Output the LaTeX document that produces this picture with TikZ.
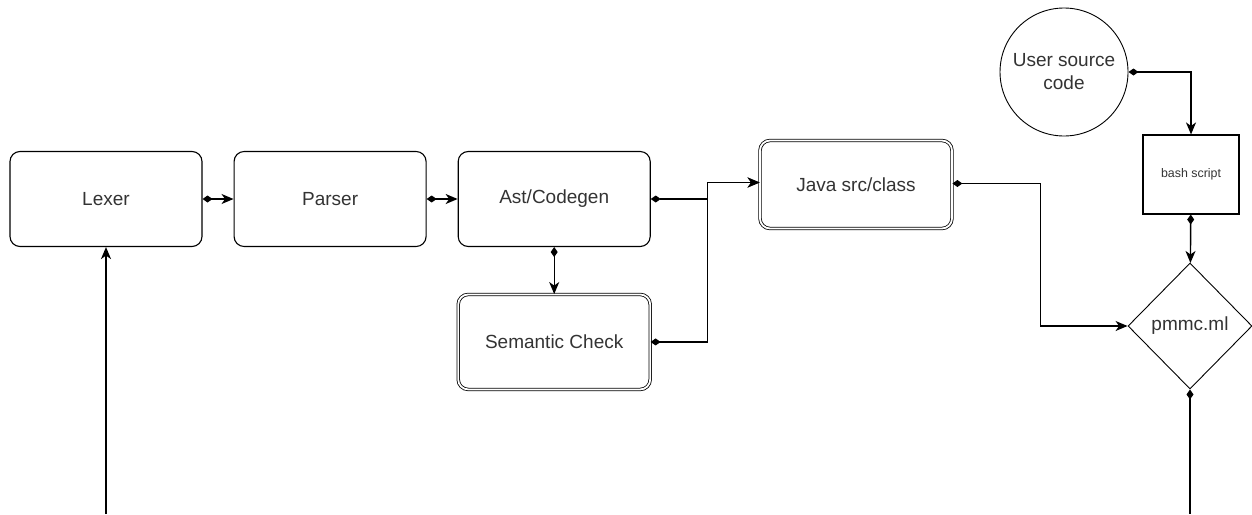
\documentclass[tikz,border=0pt]{standalone}
\usepackage{fontspec}
\setmainfont{Liberation Sans}
\usetikzlibrary{positioning,shapes.geometric,arrows.meta}

\tikzset{
  block/.style={draw, rounded corners=10pt, line width=1.1pt, minimum width=192pt,
    minimum height=95pt, text=black!80, font=\fontsize{19}{23}\selectfont},
  dblock/.style={block, double, double distance=1.8pt, line width=0.8pt},
  dot/.tip={Diamond[length=10pt,width=7pt]},
  tip/.tip={Stealth[length=12pt,width=10pt,inset=3.5pt]},
  link/.style={line width=1.4pt, dot-tip},
}

\begin{document}
\begin{tikzpicture}[x=1pt,y=-1pt]
  \useasboundingbox (0,0) rectangle (1252,514);

  \node [block] (lexer) at (106,199) {Lexer};
  \node [block, right=31pt of lexer] (parser) {Parser};
  \node [block, right=31pt of parser] (ast) {Ast/Codegen};
  \node [dblock, below=47pt of ast] (sem) {Semantic Check};
  \node [dblock, minimum height=88pt] (java) at (856,184.5) {Java src/class};

  \node [draw, circle, line width=0.9pt, minimum size=128pt, align=center,
    text=black!80, font=\fontsize{19}{23}\selectfont] (user) at (1064,72)
    {User source\\code};
  \node [draw, line width=1.1pt, minimum width=96pt, minimum height=79pt,
    text=black!80, font=\fontsize{12.4}{15}\selectfont] (bash) at (1191,174.5)
    {bash script};
  \node [draw, diamond, line width=0.9pt, inner sep=0pt, minimum width=124pt,
    minimum height=126pt, text=black!80, font=\fontsize{19}{23}\selectfont]
    (pmmc) at (1190,326) {pmmc.ml};

  \coordinate (in) at (106,514);
  \coordinate (out) at (1190,514);

  \draw [link] (lexer) -- (parser);
  \draw [link] (parser) -- (ast);
  \draw [link] (ast) -- (sem);
  \draw [link] (ast.east) -- ++(57,0) |- ([yshift=2pt]java.west);
  \draw [link] (sem.east) -- ++(57,0) |- ([yshift=2pt]java.west);
  \draw [link] ([yshift=1pt]java.east) -- ++(88,0) |- (pmmc.west);
  \draw [link] (user.east) -| (bash.north);
  \draw [link] (bash) -- (pmmc);
  \draw [line width=1.4pt, dot-] (pmmc.south) -- (out);
  \draw [line width=1.4pt, -tip] (in) -- (lexer.south);
\end{tikzpicture}
\end{document}
